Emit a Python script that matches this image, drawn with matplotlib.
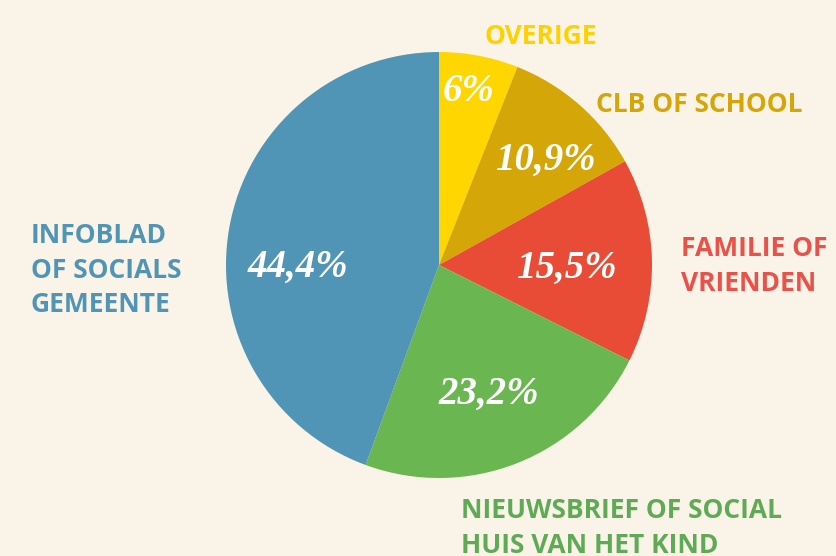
#!/usr/bin/env python
import numpy as np
import matplotlib.pyplot as plt

labels = ['OVERIGE', 'CLB OF SCHOOL', 'FAMILIE OF\nVRIENDEN',
          'NIEUWSBRIEF OF SOCIAL\nHUIS VAN HET KIND', 'INFOBLAD\nOF SOCIALS\nGEMEENTE']
values = [6.0, 10.9, 15.5, 23.2, 44.4]
pct_text = ['6%', '10,9%', '15,5%', '23,2%', '44,4%']
colors = ['#FFD600', '#D4A607', '#E84C36', '#6AB651', '#5095B5']
label_colors = ['#FFD100', '#D4A607', '#E8524A', '#5FAA55', '#5095B5']

bg = '#FAF3E7'
W, H = 836, 556
cx, cy, rad = 439, H - 265, 213

fig = plt.figure(figsize=(8.36, 5.56), dpi=100, facecolor=bg)
ax = fig.add_axes([0, 0, 1, 1])
ax.set_facecolor(bg)

wedges, _ = ax.pie(values, colors=colors, startangle=90, counterclock=False,
                   center=(cx, cy), radius=rad, frame=True,
                   wedgeprops=dict(linewidth=0))
ax.set_xlim(0, W)
ax.set_ylim(0, H)
ax.set_aspect('equal')
ax.axis('off')

# percentages inside the slices (radius fraction, angle shift from middle)
pct_r = [0.84, 0.71, 0.60, 0.64, 0.66]
pct_da = [1.4, -3.5, -1.3, 0.0, 10.0]
for w, t, r, da in zip(wedges, pct_text, pct_r, pct_da):
    a = np.deg2rad((w.theta1 + w.theta2) / 2 + da)
    ax.text(cx + r * rad * np.cos(a), cy + r * rad * np.sin(a) - 3, t,
            color='white', fontsize=28, fontstyle='italic', fontweight='bold',
            family='Liberation Serif', ha='center', va='center')

# outer labels (x, y in pixels from top-left, alignment)
lab_pos = [(541, 36, 'center'), (596, 104, 'left'), (681, 266, 'left'),
           (461, 528, 'left'), (31, 270, 'left')]
for t, c, (x, y, ha) in zip(labels, label_colors, lab_pos):
    ax.text(x, H - y, t, color=c, fontsize=19, fontweight='bold',
            family='Open Sans', ha=ha, va='center', linespacing=1.34)

plt.savefig('out.png', dpi=100, facecolor=bg)
plt.close()
